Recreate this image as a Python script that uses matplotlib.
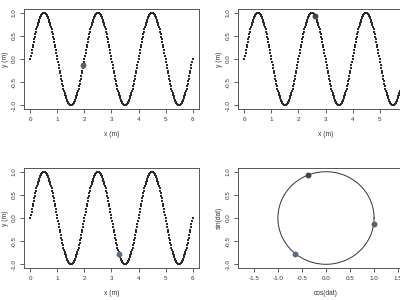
import numpy as np
import matplotlib
matplotlib.use('Agg')
import matplotlib.pyplot as plt

plt.rcParams['font.family'] = ['Liberation Sans', 'DejaVu Sans']

# wave sampled along x, y = sin(pi x)
x = np.arange(0, 6.0001, 0.02)
y = np.sin(np.pi * x)

# highlighted positions for the three wave panels
x_marks = [1.96, 2.62, 3.28]
mark_cols = ['#5f5f5f', '#454545', '#5b6d80']
yticks = [-1.0, -0.5, 0.0, 0.5, 1.0]
xticks = [0, 1, 2, 3, 4, 5, 6]
cticks = [-1.5, -1.0, -0.5, 0.0, 0.5, 1.0, 1.5]

fig = plt.figure(figsize=(4, 3), dpi=100)
W, H = 400.0, 300.0
boxes = [(24, 9, 175, 100), (238, 9, 175, 100),
         (24, 168, 175, 100), (238, 168, 175, 100)]
axs = [fig.add_axes([l / W, 1 - (t + h) / H, w / W, h / H]) for l, t, w, h in boxes]


def rstyle(ax, xl, yl, xt, xlabels):
    for s in ax.spines.values():
        s.set_color('#555555')
        s.set_linewidth(0.7)
    ax.set_xticks(xt)
    ax.set_xticklabels(xlabels)
    ax.set_yticks(yticks)
    ax.set_yticklabels(['-1.0', '-0.5', '0.0', '0.5', '1.0'], rotation=90, va='center')
    ax.tick_params(direction='out', length=3, width=0.6, color='#444444',
                   labelsize=4.5, labelcolor='#333333', pad=2.5)
    ax.set_xlabel(xl, fontsize=4.8, color='#333333', labelpad=7)
    ax.set_ylabel(yl, fontsize=4.8, color='#333333', labelpad=2)
    ax.set_ylim(-1.08, 1.08)


for i in range(3):
    ax = axs[i]
    ax.scatter(x, y, s=1.6, c='#2b2b2b', marker='s', linewidths=0)
    xm = x_marks[i]
    ax.scatter([xm], [np.sin(np.pi * xm)], s=18, c=mark_cols[i], zorder=3, linewidths=0)
    ax.set_xlim(-0.24, 6.24)
    # right column runs past the figure edge, its last tick is not visible
    xt = xticks[:-1] if i == 1 else xticks
    rstyle(ax, 'x (m)', 'y (m)', xt, [str(t) for t in xt])

ax = axs[3]
th = np.linspace(0, 2 * np.pi, 400)
ax.plot(np.cos(th), np.sin(th), color='#333333', lw=0.7)
for i in range(3):
    a = np.pi * x_marks[i]
    ax.scatter([np.cos(a)], [np.sin(a)], s=18, c=mark_cols[i], zorder=3, linewidths=0)
ax.set_xlim(-1.83, 1.81)
rstyle(ax, 'cos(dat)', 'sin(dat)', cticks, ['-1.5', '-1.0', '-0.5', '0.0', '0.5', '1.0', '1.5'])

fig.savefig('out.png', dpi=100)
